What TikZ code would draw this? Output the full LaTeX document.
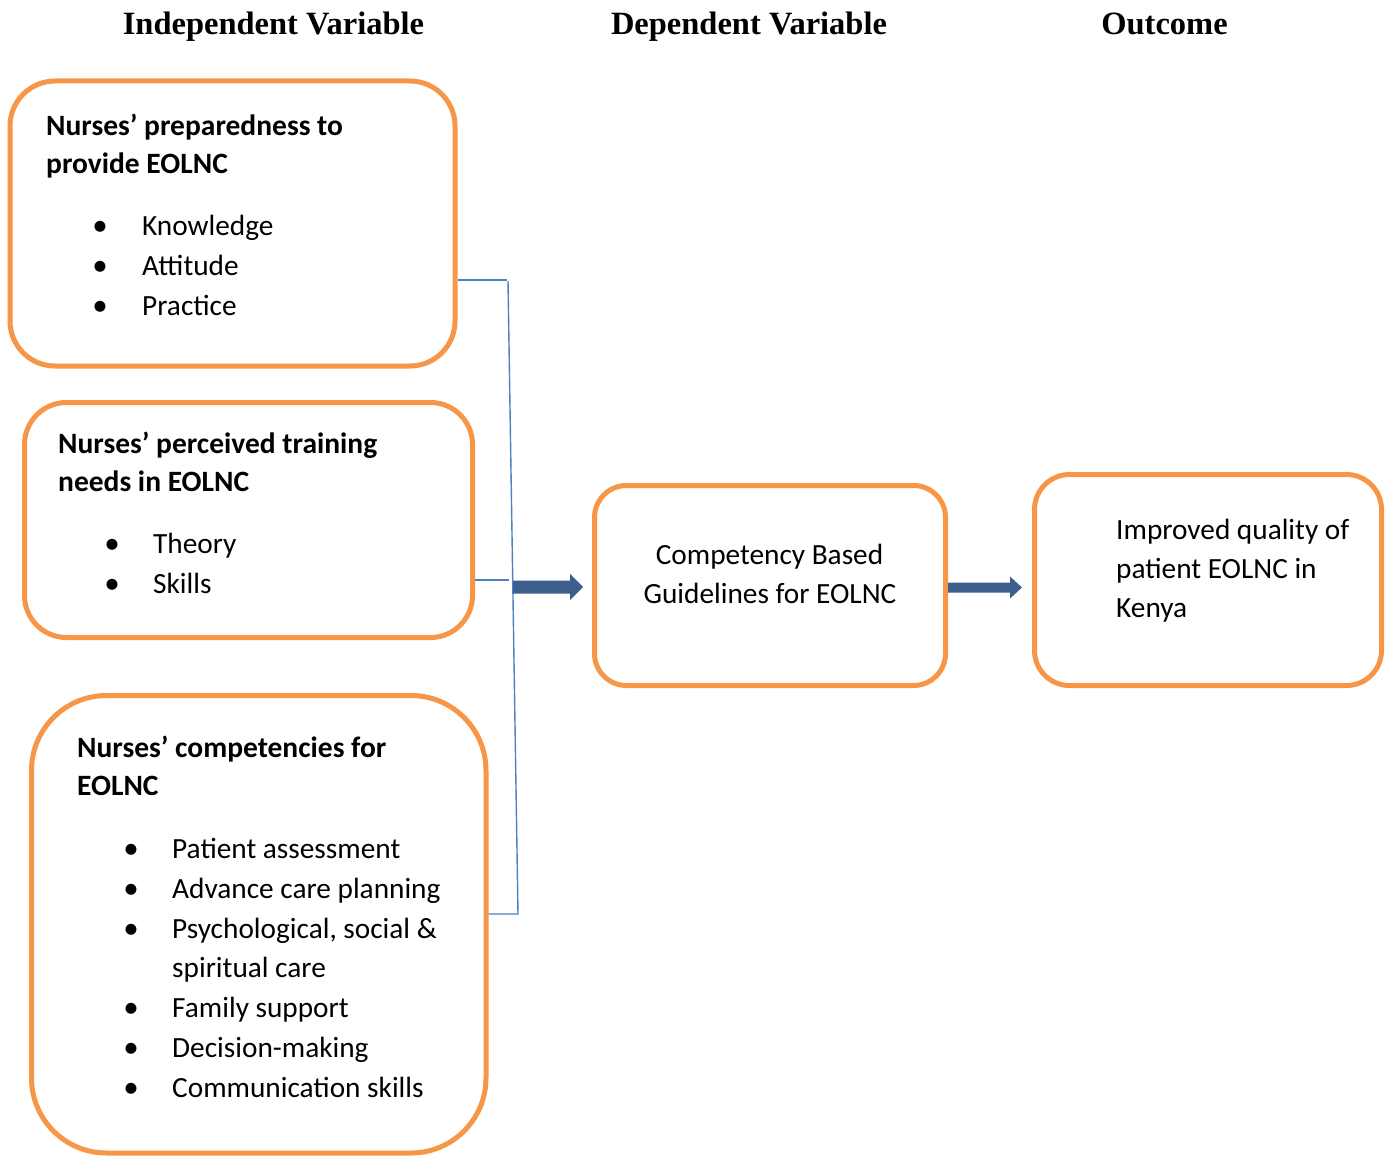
\documentclass[tikz,border=0pt]{standalone}
\usepackage{fontspec}
\setmainfont{Carlito}
\newfontfamily\headfont{Liberation Serif}
\usetikzlibrary{calc}
\definecolor{boxorange}{HTML}{F79646}
\definecolor{linkblue}{HTML}{4F81BD}
\definecolor{arrowblue}{HTML}{3B5E8D}

% filled block arrow from coordinate #1 to coordinate #2:
% #3 = half shaft width, #4 = half head width, #5 = head length
\newcommand\blockarrow[5]{%
  \fill[arrowblue] ($(#1)+(0,-#3)$) -- ($(#2)+(-#5,-#3)$) -- ($(#2)+(-#5,-#4)$)
    -- (#2) -- ($(#2)+(-#5,#4)$) -- ($(#2)+(-#5,#3)$) -- ($(#1)+(0,#3)$) -- cycle;}

\begin{document}
\begin{tikzpicture}[x=1pt,y=-1pt,
  box/.style={draw=boxorange, line width=5pt, rectangle, inner sep=0pt, fill=white},
  link/.style={draw=linkblue, line width=1.4pt},
  itemtext/.style={inner sep=0pt, anchor=base west, font=\fontsize{29.3}{40}\selectfont},
  boxtitle/.style={itemtext, font=\fontsize{29.5}{40}\selectfont\bfseries},
  centred/.style={inner sep=0pt, anchor=base, font=\fontsize{29.3}{40}\selectfont},
  bulletmark/.style={inner sep=0pt, anchor=base, font=\fontsize{31}{40}\selectfont},
  colhead/.style={inner sep=0pt, anchor=base, font=\headfont\bfseries\fontsize{32.5}{38}\selectfont}]

\fill[white] (0,0) rectangle (1390,1156);
\useasboundingbox (0,0) rectangle (1390,1156);

% column headings
\node[colhead] (h-ind) at (273.5,35) {Independent Variable};
\node[colhead] (h-dep) at (749,35) {Dependent Variable};
\node[colhead] (h-out) at (1164.5,35) {Outcome};

% boxes
\node[box, minimum width=445pt, minimum height=285pt, rounded corners=45pt] (prep) at (232.5,223.5) {};
\node[box, minimum width=448pt, minimum height=235pt, rounded corners=42pt] (needs) at (248.5,520) {};
\node[box, minimum width=454.5pt, minimum height=457.5pt, rounded corners=75pt] (comp) at (258.75,924.25) {};
\node[box, minimum width=351pt, minimum height=200pt, rounded corners=32pt] (guide) at (770,585.5) {};
\node[box, minimum width=347pt, minimum height=211pt, rounded corners=35pt] (outcome) at (1208,580) {};

% preparedness
\node[boxtitle] (prep-t1) at (46,135) {Nurses’ preparedness to};
\node[boxtitle] (prep-t2) at (46,173) {provide EOLNC};
\foreach \y/\t [count=\i] in {235/Knowledge,275/Attitude,315/Practice} {
  \node[bulletmark] (prep-b\i) at (100,\y) {•};
  \node[itemtext] (prep-i\i) at (142,\y) {\t};
}

% training needs
\node[boxtitle] (needs-t1) at (58,453) {Nurses’ perceived training};
\node[boxtitle] (needs-t2) at (58,491) {needs in EOLNC};
\foreach \y/\t [count=\i] in {553/Theory,593/Skills} {
  \node[bulletmark] (needs-b\i) at (112,\y) {•};
  \node[itemtext] (needs-i\i) at (153,\y) {\t};
}

% competencies
\node[boxtitle] (comp-t1) at (77,757) {Nurses’ competencies for};
\node[boxtitle] (comp-t2) at (77,795) {EOLNC};
\foreach \y [count=\i] in {858,898,938,1017,1057,1097} {
  \node[bulletmark] (comp-b\i) at (131,\y) {•};
}
\node[itemtext] (comp-i1) at (172,858) {Patient assessment};
\node[itemtext] (comp-i2) at (172,898) {Advance care planning};
\node[itemtext] (comp-i3) at (172,938) {Psychological, social \&};
\node[itemtext] (comp-i3b) at (172,977) {spiritual care};
\node[itemtext] (comp-i4) at (172,1017) {Family support};
\node[itemtext] (comp-i5) at (172,1057) {Decision-making};
\node[itemtext] (comp-i6) at (172,1097) {Communication skills};

% guidelines
\node[centred] (guide-t1) at (769.5,564) {Competency Based};
\node[centred] (guide-t2) at (770,603) {Guidelines for EOLNC};

% outcome
\node[itemtext] (out-t1) at (1116,539) {Improved quality of};
\node[itemtext] (out-t2) at (1116,578) {patient EOLNC in};
\node[itemtext] (out-t3) at (1116,617) {Kenya};

% bracket joining the three independent variables
\coordinate (j1) at (507,280);
\coordinate (j2) at (508,281);
\coordinate (j3) at (518,914);
\coordinate (j4) at (509,580);
\draw[link] (prep.east |- j1) -- (j1);
\draw[link] (j2) -- (j3) -- (comp.east |- j3);
\draw[link] (needs.east |- j4) -- (j4);

% block arrows
\coordinate (a1s) at (513,587);
\coordinate (a1e) at ($(guide.west |- a1s)+(-9,0)$);
\blockarrow{a1s}{a1e}{6.5}{13}{13}
\coordinate (a2s) at ($(guide.east)+(0,2)$);
\coordinate (a2e) at ($(outcome.west |- a2s)+(-10,0)$);
\blockarrow{a2s}{a2e}{5}{11}{12}
\end{tikzpicture}
\end{document}
